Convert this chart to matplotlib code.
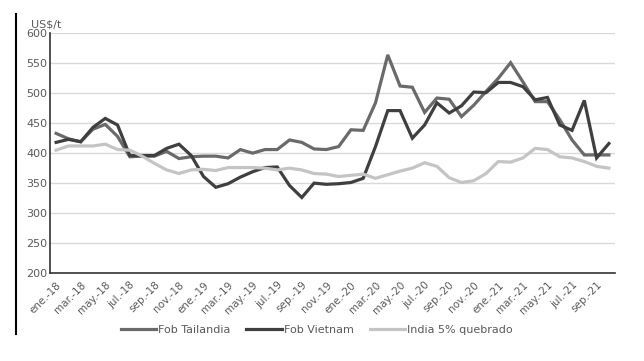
import numpy as np
import matplotlib
matplotlib.use("Agg")
import matplotlib.pyplot as plt
from matplotlib.lines import Line2D

# monthly series ene-18 .. oct-21
months = ["ene.", "feb.", "mar.", "abr.", "may.", "jun.", "jul.", "ago.", "sep.", "oct.", "nov.", "dic."]
labels = []
for yr in ["18", "19", "20", "21"]:
	for m in months:
		labels.append(m + "-" + yr)
labels = labels[:46]

tailandia = [433, 424, 419, 440, 448, 428, 394, 395, 395, 403, 391, 394,
	395, 395, 392, 406, 400, 406, 406, 422, 418, 407, 406, 411,
	439, 438, 484, 564, 512, 510, 468, 492, 490, 461, 480, 503,
	525, 551, 519, 486, 486, 456, 422, 397, 397, 397]
vietnam = [418, 423, 419, 443, 458, 447, 396, 396, 396, 408, 415, 396,
	361, 343, 349, 360, 369, 376, 377, 346, 326, 350, 348, 349,
	351, 358, 411, 471, 471, 425, 447, 484, 467, 479, 502, 501,
	518, 518, 511, 489, 493, 447, 438, 488, 392, 416]
india = [405, 412, 412, 412, 415, 406, 405, 395, 383, 372, 366, 372,
	373, 371, 376, 376, 376, 375, 372, 375, 372, 366, 365, 361,
	363, 365, 358, 364, 370, 375, 384, 378, 359, 351, 354, 366,
	386, 385, 392, 408, 406, 394, 392, 386, 378, 375]

series_names = ["Fob Tailandia", "Fob Vietnam", "India 5% quebrado"]
series_colors = ["#6a6a6a", "#3f3f3f", "#c4c4c4"]

plt.rcParams.update({
	'font.family': 'DejaVu Sans',
	'font.size': 8,
})

fig = plt.figure(figsize=(6.44, 3.61), dpi=100)
ax = fig.add_axes([0.0776, 0.2438, 0.8774, 0.6639])

x = np.arange(len(labels))
for vals, name, col in zip([tailandia, vietnam, india], series_names, series_colors):
	ax.plot(x, vals, color=col, lw=2.3, label=name, solid_joinstyle='miter')

ax.set_xlim(-0.5, len(labels) - 0.5)
ax.set_ylim(200, 600)
ax.set_yticks(np.arange(200, 601, 50))
ax.set_xticks(x[::2])
ax.set_xticklabels(labels[::2], rotation=45, ha='right', rotation_mode='anchor',
	fontsize=7.5, color='#595959')
ax.tick_params(axis='y', length=0, labelsize=8, labelcolor='#595959', pad=2)
ax.tick_params(axis='x', length=0, pad=5)
ax.grid(axis='y', color='#d9d9d9', lw=1)
ax.set_axisbelow(True)
for s in ['top', 'right']:
	ax.spines[s].set_visible(False)
ax.spines['left'].set_color('#333333')
ax.spines['bottom'].set_color('#333333')
ax.spines['left'].set_linewidth(1.2)
ax.spines['bottom'].set_linewidth(1.2)

fig.text(0.048, 0.918, "US$/t", fontsize=8, color='#595959', ha='left', va='bottom')

# leftover border line of the original chart frame
fig.add_artist(Line2D([16/644, 16/644], [1 - 14/361, 1 - 334/361], color='black', lw=1.5))

fig.legend(loc='center', bbox_to_anchor=(0.492, 0.086), ncol=3, frameon=False,
	fontsize=8, handlelength=3.2, columnspacing=1.4, handletextpad=0.2,
	labelcolor='#595959')

fig.savefig("out.png", dpi=100)
